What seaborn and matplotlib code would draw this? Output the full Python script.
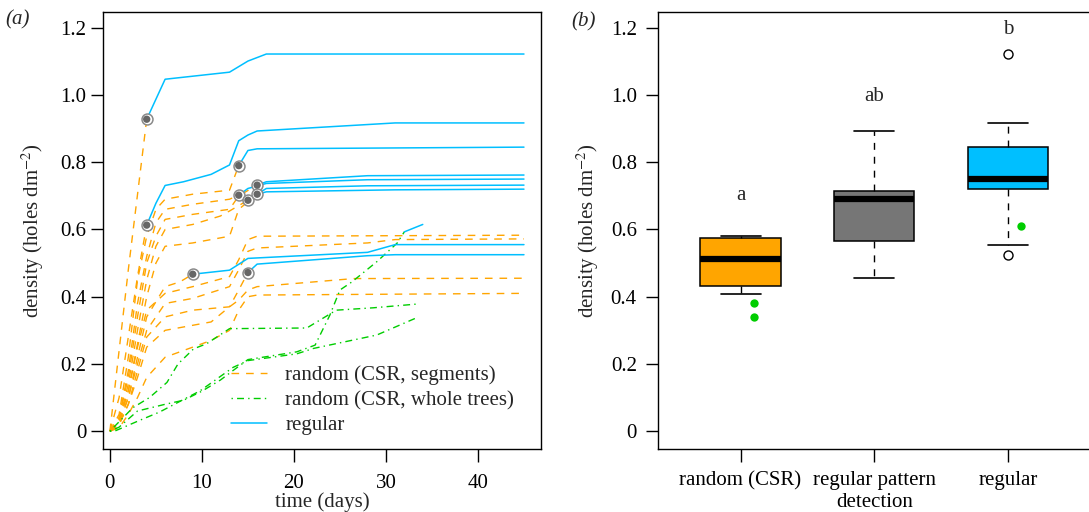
import numpy as np
import pandas as pd
import matplotlib
matplotlib.use("Agg")
import matplotlib.pyplot as plt
from matplotlib.lines import Line2D
import seaborn as sns


# ---------------- panel (a): hole density through time ----------------
# random (CSR, segments) -- orange dashed; lines stopping early end at a detection circle
s1_t = [0, 2, 4]
s1_v = [0, 0.48, 0.928]
s2_t = [0, 1, 2, 3, 4]
s2_v = [0, 0.10, 0.28, 0.46, 0.613]
s3_t = [0, 1, 2, 3, 4, 5, 6, 9, 13, 14]
s3_v = [0, 0.05, 0.22, 0.45, 0.58, 0.66, 0.69, 0.705, 0.717, 0.79]
s4_t = [0, 1, 2, 3, 4, 5, 6, 9, 13, 14]
s4_v = [0, 0.04, 0.18, 0.38, 0.52, 0.62, 0.66, 0.675, 0.69, 0.702]
s5_t = [0, 1, 2, 3, 4, 5, 6, 9, 13, 14, 16]
s5_v = [0, 0.04, 0.16, 0.34, 0.50, 0.58, 0.63, 0.645, 0.66, 0.70, 0.732]
s6_t = [0, 1, 2, 3, 4, 5, 6, 9, 12, 13, 15]
s6_v = [0, 0.03, 0.14, 0.30, 0.45, 0.55, 0.60, 0.615, 0.64, 0.655, 0.687]
s7_t = [0, 1, 2, 3, 4, 5, 6, 9, 13, 14, 16]
s7_v = [0, 0.03, 0.12, 0.26, 0.40, 0.50, 0.55, 0.56, 0.58, 0.66, 0.705]
s8_t = [0, 1, 2, 3, 4, 6, 7.6, 9]
s8_v = [0, 0.03, 0.10, 0.22, 0.34, 0.43, 0.444, 0.467]
s9_t = [0, 1, 2, 3, 4, 6, 9, 13, 14, 15]
s9_v = [0, 0.02, 0.08, 0.18, 0.28, 0.34, 0.36, 0.37, 0.42, 0.472]
s10_t = [0, 1, 2, 3, 4, 6, 9, 13, 14, 15, 16, 45]
s10_v = [0, 0.03, 0.12, 0.25, 0.36, 0.41, 0.43, 0.46, 0.51, 0.57, 0.58, 0.583]
s11_t = [0, 1, 2, 3, 4, 6, 9, 13, 14, 15, 16, 28, 31, 45]
s11_v = [0, 0.02, 0.10, 0.20, 0.30, 0.38, 0.395, 0.43, 0.48, 0.535, 0.545, 0.56, 0.57, 0.572]
s12_t = [0, 1, 2, 3, 4, 6, 9, 11, 13, 14, 15, 16, 26.5, 45]
s12_v = [0, 0.02, 0.08, 0.16, 0.25, 0.30, 0.315, 0.325, 0.37, 0.39, 0.42, 0.43, 0.454, 0.455]
s13_t = [0, 1, 2, 3, 4, 6, 9, 11, 13, 14, 15, 16, 45]
s13_v = [0, 0.01, 0.05, 0.10, 0.16, 0.22, 0.25, 0.27, 0.30, 0.36, 0.40, 0.405, 0.41]

# random (CSR, whole trees) -- green dash-dot
w1_t = [0, 2.5, 4.3, 6.2, 7.4, 9.1, 10.5, 13, 21.4, 24.6, 28.6, 33.3]
w1_v = [0, 0.07, 0.10, 0.145, 0.20, 0.245, 0.26, 0.305, 0.307, 0.36, 0.367, 0.378]
w2_t = [0, 1, 3, 6, 8, 10, 12, 14, 15, 20.3, 22.3, 23.9, 25, 26.3, 29, 31.2, 32]
w2_v = [0, 0.012, 0.06, 0.08, 0.092, 0.119, 0.152, 0.193, 0.213, 0.236, 0.256, 0.345,
        0.42, 0.444, 0.504, 0.559, 0.593]
w3_t = [0, 0.5, 3.3, 5.4, 9.8, 13.4, 15, 20.3, 22.1, 29, 33.3]
w3_v = [0, 0.0, 0.033, 0.057, 0.12, 0.19, 0.21, 0.23, 0.246, 0.286, 0.337]

# regular -- blue solid
r1_t = [4, 6, 13, 15, 17, 45]
r1_v = [0.928, 1.047, 1.068, 1.101, 1.122, 1.122]
r2_t = [4, 5, 6, 8, 11, 13, 14, 15, 16, 31, 45]
r2_v = [0.613, 0.678, 0.731, 0.742, 0.764, 0.792, 0.864, 0.881, 0.893, 0.917, 0.917]
r3_t = [14, 15, 16, 45]
r3_v = [0.79, 0.835, 0.840, 0.845]
r4_t = [14, 15, 17, 28, 45]
r4_v = [0.702, 0.722, 0.737, 0.748, 0.750]
r5_t = [15, 16, 17, 31, 45]
r5_v = [0.687, 0.705, 0.712, 0.718, 0.720]
r6_t = [16, 17, 28, 45]
r6_v = [0.732, 0.742, 0.760, 0.762]
r7_t = [16, 17, 28, 45]
r7_v = [0.705, 0.722, 0.730, 0.732]
r8_t = [9, 13, 15, 28, 31, 45]
r8_v = [0.467, 0.479, 0.514, 0.532, 0.555, 0.555]
r9_t = [15, 16, 28, 31, 45]
r9_v = [0.472, 0.497, 0.522, 0.525, 0.525]
r10_t = [32, 34]
r10_v = [0.593, 0.615]

# regular pattern detected (circles)
detect_t = [4, 4, 14, 14, 15, 16, 16, 9, 15]
detect_v = [0.928, 0.613, 0.79, 0.702, 0.687, 0.732, 0.705, 0.467, 0.472]

legend_labels = ["random (CSR, segments)", "random (CSR, whole trees)", "regular"]
xticks_a = [0, 10, 20, 30, 40]
yticks = [0, 0.2, 0.4, 0.6, 0.8, 1.0, 1.2]
ytick_labels = ["0", "0.2", "0.4", "0.6", "0.8", "1.0", "1.2"]

# ---------------- panel (b): final densities ----------------
categories = ["random (CSR)", "regular pattern\ndetection", "regular"]
csr_vals = [0.409, 0.432, 0.512, 0.575, 0.581]
detection_vals = [0.457, 0.47, 0.565, 0.61, 0.69, 0.70, 0.714, 0.79, 0.893]
regular_vals = [0.525, 0.555, 0.72, 0.73, 0.75, 0.76, 0.845, 0.917, 1.122]
whole_cat = ["random (CSR)", "random (CSR)", "regular"]
whole_vals = [0.38, 0.34, 0.61]
sig_letters = ["a", "ab", "b"]
sig_y = [0.70, 0.996, 1.196]

orange = "#FFA500"
green = "#00CD00"
blue = "#00BFFF"
grey = "#767676"


def long_table(lines, kind):
    parts = []
    for i, (t, v) in enumerate(lines):
        parts.append(pd.DataFrame({"time": t, "density": v, "line": f"{kind}{i}"}))
    return pd.concat(parts, ignore_index=True)


seg_df = long_table([(s1_t, s1_v), (s2_t, s2_v), (s3_t, s3_v), (s4_t, s4_v), (s5_t, s5_v),
                     (s6_t, s6_v), (s7_t, s7_v), (s8_t, s8_v), (s9_t, s9_v), (s10_t, s10_v),
                     (s11_t, s11_v), (s12_t, s12_v), (s13_t, s13_v)], "seg")
whole_df = long_table([(w1_t, w1_v), (w2_t, w2_v), (w3_t, w3_v)], "whole")
reg_df = long_table([(r1_t, r1_v), (r2_t, r2_v), (r3_t, r3_v), (r4_t, r4_v), (r5_t, r5_v),
                     (r6_t, r6_v), (r7_t, r7_v), (r8_t, r8_v), (r9_t, r9_v), (r10_t, r10_v)], "reg")

box_df = pd.DataFrame({
    "group": [categories[0]] * len(csr_vals) + [categories[1]] * len(detection_vals)
             + [categories[2]] * len(regular_vals),
    "density": csr_vals + detection_vals + regular_vals,
})


sns.set_style("ticks")
plt.rcParams["font.family"] = ["Liberation Serif", "DejaVu Serif"]
plt.rcParams["mathtext.fontset"] = "stix"
plt.rcParams["axes.edgecolor"] = "black"
plt.rcParams["axes.linewidth"] = 1.0

fs = 15
seg_ls = (0, (5.5, 5))
whole_ls = (0, (1, 3, 5, 3))

fig = plt.figure(figsize=(10.89, 5.12), dpi=100)
axa = fig.add_axes([103 / 1089, 1 - 449 / 512, 438 / 1089, 437 / 512])
axb = fig.add_axes([657.7 / 1089, 1 - 449 / 512, 433 / 1089, 437 / 512])

# ---- (a) ----
sns.lineplot(data=seg_df, x="time", y="density", units="line", estimator=None, sort=False,
             color=orange, linewidth=1.0, linestyle=seg_ls, ax=axa)
sns.lineplot(data=whole_df, x="time", y="density", units="line", estimator=None, sort=False,
             color=green, linewidth=1.0, linestyle=whole_ls, ax=axa)
sns.lineplot(data=reg_df, x="time", y="density", units="line", estimator=None, sort=False,
             color=blue, linewidth=1.1, ax=axa)
sns.scatterplot(x=detect_t, y=detect_v, s=62, color="white", edgecolor="#8a8a8a",
                linewidth=1.1, zorder=5, ax=axa)
sns.scatterplot(x=detect_t, y=detect_v, s=28, color="#666666", edgecolor="none",
                zorder=6, ax=axa)

axa.set_xlim(-0.75, 46.85)
axa.set_ylim(-0.053, 1.247)
axa.set_xticks(xticks_a)
axa.set_yticks(yticks)
axa.set_yticklabels(ytick_labels)
axa.set_xlabel("time (days)", fontsize=fs)
axa.set_ylabel("density (holes dm$^{-2}$)", fontsize=fs)
axa.xaxis.set_label_coords(0.5, -0.1)
axa.yaxis.set_label_coords(-0.130, 0.5)
axa.tick_params(axis="both", direction="out", length=9, width=1, labelsize=fs, colors="black")
axa.tick_params(axis="x", pad=9)
axa.tick_params(axis="y", pad=3)

handles = [
    Line2D([], [], color=orange, lw=1.0, ls=seg_ls),
    Line2D([], [], color=green, lw=1.0, ls=whole_ls),
    Line2D([], [], color=blue, lw=1.1),
]
axa.legend(handles, legend_labels, loc="upper left", bbox_to_anchor=(0.2916, 0.191),
           frameon=False, fontsize=fs, handlelength=1.76, handletextpad=0.85,
           labelspacing=0.25, borderpad=0, borderaxespad=0)

# ---- (b) ----
sns.boxplot(data=box_df, x="group", y="density", hue="group", order=categories,
            hue_order=categories, palette=[orange, grey, blue], saturation=1, width=0.6,
            linecolor="black", linewidth=1.1, whis=1.5, legend=False, ax=axb,
            medianprops=dict(color="black", linewidth=4.5, solid_capstyle="butt"),
            whiskerprops=dict(linestyle=(0, (5, 5)), linewidth=1.0),
            capprops=dict(linewidth=1.2),
            flierprops=dict(marker="o", markerfacecolor="none", markeredgecolor="black",
                            markersize=6.5, markeredgewidth=1.0))

whole_x = [categories.index(c) + 0.1 for c in whole_cat]
axb.plot(whole_x, whole_vals, "o", color=green, markersize=6, markeredgewidth=0, zorder=5)

for i, (lab, yv) in enumerate(zip(sig_letters, sig_y)):
    axb.text(i, yv, lab, ha="center", va="center", fontsize=fs)

axb.set_xlim(-0.62, 2.62)
axb.set_ylim(-0.053, 1.247)
axb.set_yticks(yticks)
axb.set_yticklabels(ytick_labels)
axb.set_xlabel("")
axb.set_ylabel("density (holes dm$^{-2}$)", fontsize=fs)
axb.yaxis.set_label_coords(-0.131, 0.5)
axb.tick_params(axis="both", direction="out", length=9, width=1, labelsize=fs, colors="black")
axb.tick_params(axis="x", pad=7)
axb.tick_params(axis="y", pad=6)

fig.text(18 / 1089, 1 - 20 / 512, "(a)", ha="center", va="center", fontsize=fs, style="italic")
fig.text(584 / 1089, 1 - 22 / 512, "(b)", ha="center", va="center", fontsize=fs, style="italic")

fig.savefig("out.png", dpi=100)
